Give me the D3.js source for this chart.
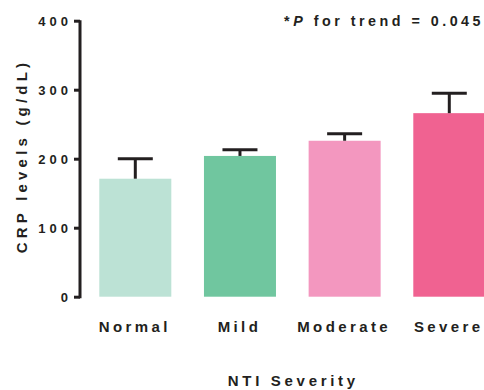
<!DOCTYPE html>
<html><head><meta charset="utf-8">
<script src="https://cdn.jsdelivr.net/npm/d3@7"></script>
<style>
html,body{margin:0;padding:0;background:#fff;}
svg text{font-family:"Liberation Sans",Arial,Helvetica,sans-serif;font-weight:bold;fill:#231f20;}
</style></head>
<body><svg id="c" width="484" height="390"></svg>
<script>
const categories = ["Normal","Mild","Moderate","Severe"];
const values = [171, 204, 226, 266];
const errors = [29, 9, 10, 29];
const colors = ["#bce2d5","#70c69f","#f397bf","#f06291"];
const yTicks = [0,100,200,300,400];

const svg = d3.select("#c");
const y = d3.scaleLinear().domain([0,400]).range([296.7,20.7]);
const x = d3.scaleBand().domain(categories).range([99.3,485.3]).paddingInner(0.312).paddingOuter(0);

// bars
svg.selectAll("rect.bar").data(categories).enter().append("rect")
  .attr("x", d=>x(d)).attr("width", x.bandwidth())
  .attr("y", (d,i)=>y(values[i])).attr("height",(d,i)=>y(0)-y(values[i]))
  .attr("fill",(d,i)=>colors[i]);

// error bars
const eg = svg.append("g").attr("stroke","#231f20").attr("stroke-width",3);
categories.forEach((c,i)=>{
  const cx = x(c)+x.bandwidth()/2;
  eg.append("line").attr("x1",cx).attr("x2",cx).attr("y1",y(values[i])).attr("y2",y(values[i]+errors[i]));
  eg.append("line").attr("x1",cx-17.5).attr("x2",cx+17.5).attr("y1",y(values[i]+errors[i])).attr("y2",y(values[i]+errors[i]));
});

// y axis
const ax = svg.append("g").attr("transform","translate(80,0)")
  .call(d3.axisLeft(y).tickValues(yTicks).tickSize(6).tickPadding(6));
ax.select(".domain").attr("stroke","#231f20").attr("stroke-width",3).attr("d","M0,"+(y(400)-0.5)+"V"+(y(0)+1.5));
ax.selectAll(".tick line").attr("stroke","#231f20").attr("stroke-width",3);
ax.selectAll(".tick text").attr("font-size",13).style("letter-spacing","4px")
  .attr("dx","4px").attr("dy","0.36em").attr("fill","#231f20");

// x labels
svg.selectAll("text.xl").data(categories).enter().append("text")
  .attr("x", d=>x(d)+x.bandwidth()/2-0.5).attr("y",331.5)
  .attr("text-anchor","middle").attr("font-size",15).style("letter-spacing","3.4px")
  .text(d=>d);

// x title
svg.append("text").attr("x",293.3).attr("y",386).attr("text-anchor","middle")
  .attr("font-size",15).style("letter-spacing","3.7px").text("NTI Severity");

// y title
svg.append("text").attr("transform","translate(27,156) rotate(-90)").attr("text-anchor","middle")
  .attr("font-size",15).style("letter-spacing","4.2px").text("CRP levels (g/dL)");

// trend annotation
const t = svg.append("text").attr("x",484).attr("y",26).attr("text-anchor","end")
  .attr("font-size",14.3).style("letter-spacing","3.5px");
t.append("tspan").text("*");
t.append("tspan").attr("font-style","italic").text("P");
t.append("tspan").text(" for trend = 0.045");
</script></body></html>
